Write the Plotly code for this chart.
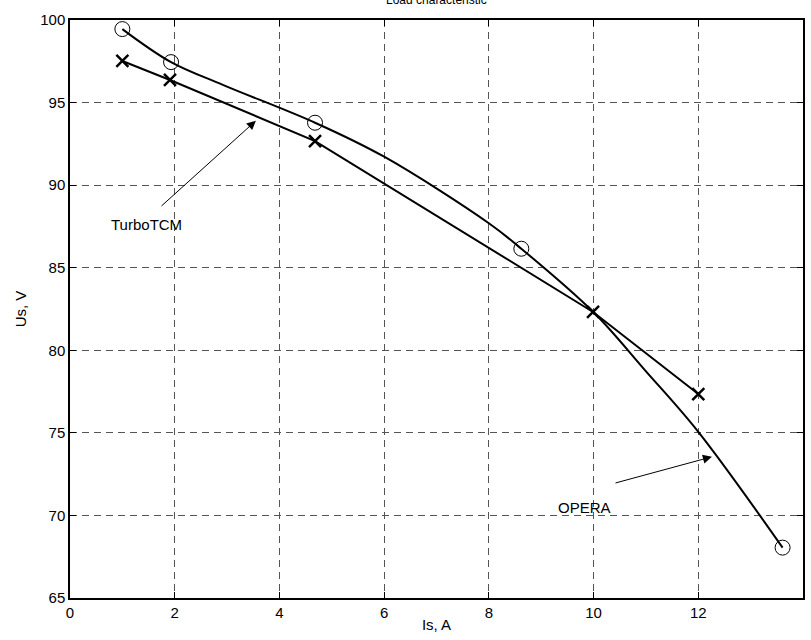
import plotly.graph_objects as go

# OPERA measured points (circles)
opera_x = [1.0, 1.93, 4.68, 8.62, 13.61]
opera_y = [99.45, 97.45, 93.78, 86.15, 68.05]

# OPERA curve as drawn
opera_curve_x = [1.0, 1.93, 2.93, 4.68, 6.0, 8.0, 8.62, 10.0, 10.98, 12.0, 13.61]
opera_curve_y = [99.45, 97.45, 96.06, 93.78, 91.72, 87.69, 86.15, 82.3, 78.8, 75.06, 68.05]

# TurboTCM (crosses, straight segments)
turbo_x = [1.0, 1.91, 4.68, 9.99, 12.0]
turbo_y = [97.52, 96.37, 92.67, 82.32, 77.35]

x_ticks = [0, 2, 4, 6, 8, 10, 12, 14]
y_ticks = [65, 70, 75, 80, 85, 90, 95, 100]

title_text = "Load characteristic"
x_label = "Is, A"
y_label = "Us, V"

FONT = "Liberation Sans, Arial, sans-serif"

fig = go.Figure()
fig.add_trace(go.Scatter(
    x=opera_curve_x, y=opera_curve_y, mode="lines",
    line=dict(color="black", width=2, shape="spline", smoothing=1.0),
    showlegend=False, hoverinfo="skip"))
fig.add_trace(go.Scatter(
    x=opera_x, y=opera_y, mode="markers",
    marker=dict(symbol="circle-open", size=15, color="black", line=dict(width=1)),
    showlegend=False, cliponaxis=False))
fig.add_trace(go.Scatter(
    x=turbo_x, y=turbo_y, mode="lines+markers",
    line=dict(color="black", width=2),
    marker=dict(symbol="x-thin-open", size=12, color="black", line=dict(width=2.5, color="black")),
    showlegend=False, cliponaxis=False))

# Annotations with arrows
fig.add_annotation(x=3.55, y=93.9, ax=1.72, ay=88.66, xref="x", yref="y", axref="x", ayref="y",
                   showarrow=True, arrowhead=2, arrowsize=1.8, arrowwidth=1, arrowcolor="black", text="")
fig.add_annotation(x=1.465, y=87.63, text="TurboTCM", showarrow=False,
                   font=dict(family=FONT, size=15, color="black"))
fig.add_annotation(x=12.26, y=73.55, ax=10.39, ay=71.94, xref="x", yref="y", axref="x", ayref="y",
                   showarrow=True, arrowhead=2, arrowsize=1.8, arrowwidth=1, arrowcolor="black", text="")
fig.add_annotation(x=9.82, y=70.46, text="OPERA", showarrow=False,
                   font=dict(family=FONT, size=15, color="black"))

# Title, mostly cut off at the top edge as in the reference
fig.add_annotation(x=0.5, y=1.0, xref="paper", yref="paper", yshift=11, yanchor="bottom",
                   text=title_text, showarrow=False,
                   font=dict(family=FONT, size=12, color="black"))

axis_common = dict(
    showline=True, linecolor="black", linewidth=1.5, mirror="ticks",
    ticks="inside", ticklen=6, tickcolor="black", tickwidth=1,
    showgrid=True, gridcolor="#555555", griddash="7px,5px", gridwidth=1,
    zeroline=False, tickfont=dict(family=FONT, size=15, color="black"),
)

fig.update_xaxes(range=[0, 14], tickvals=x_ticks, ticktext=[str(v) for v in x_ticks],
                 title=dict(text=x_label, font=dict(family=FONT, size=15, color="black"), standoff=0),
                 **axis_common)
fig.update_yaxes(range=[65, 100], tickvals=y_ticks, ticktext=[str(v) for v in y_ticks],
                 title=dict(text=y_label, font=dict(family=FONT, size=15, color="black"), standoff=10),
                 **axis_common)

fig.update_layout(
    width=811, height=640,
    margin=dict(l=70, r=8, t=20, b=42, autoexpand=False),
    plot_bgcolor="white", paper_bgcolor="white",
    font=dict(family=FONT, color="black"),
)

fig.write_html("out.html", config={"displayModeBar": False},
               post_script="document.body.style.margin='0';")
